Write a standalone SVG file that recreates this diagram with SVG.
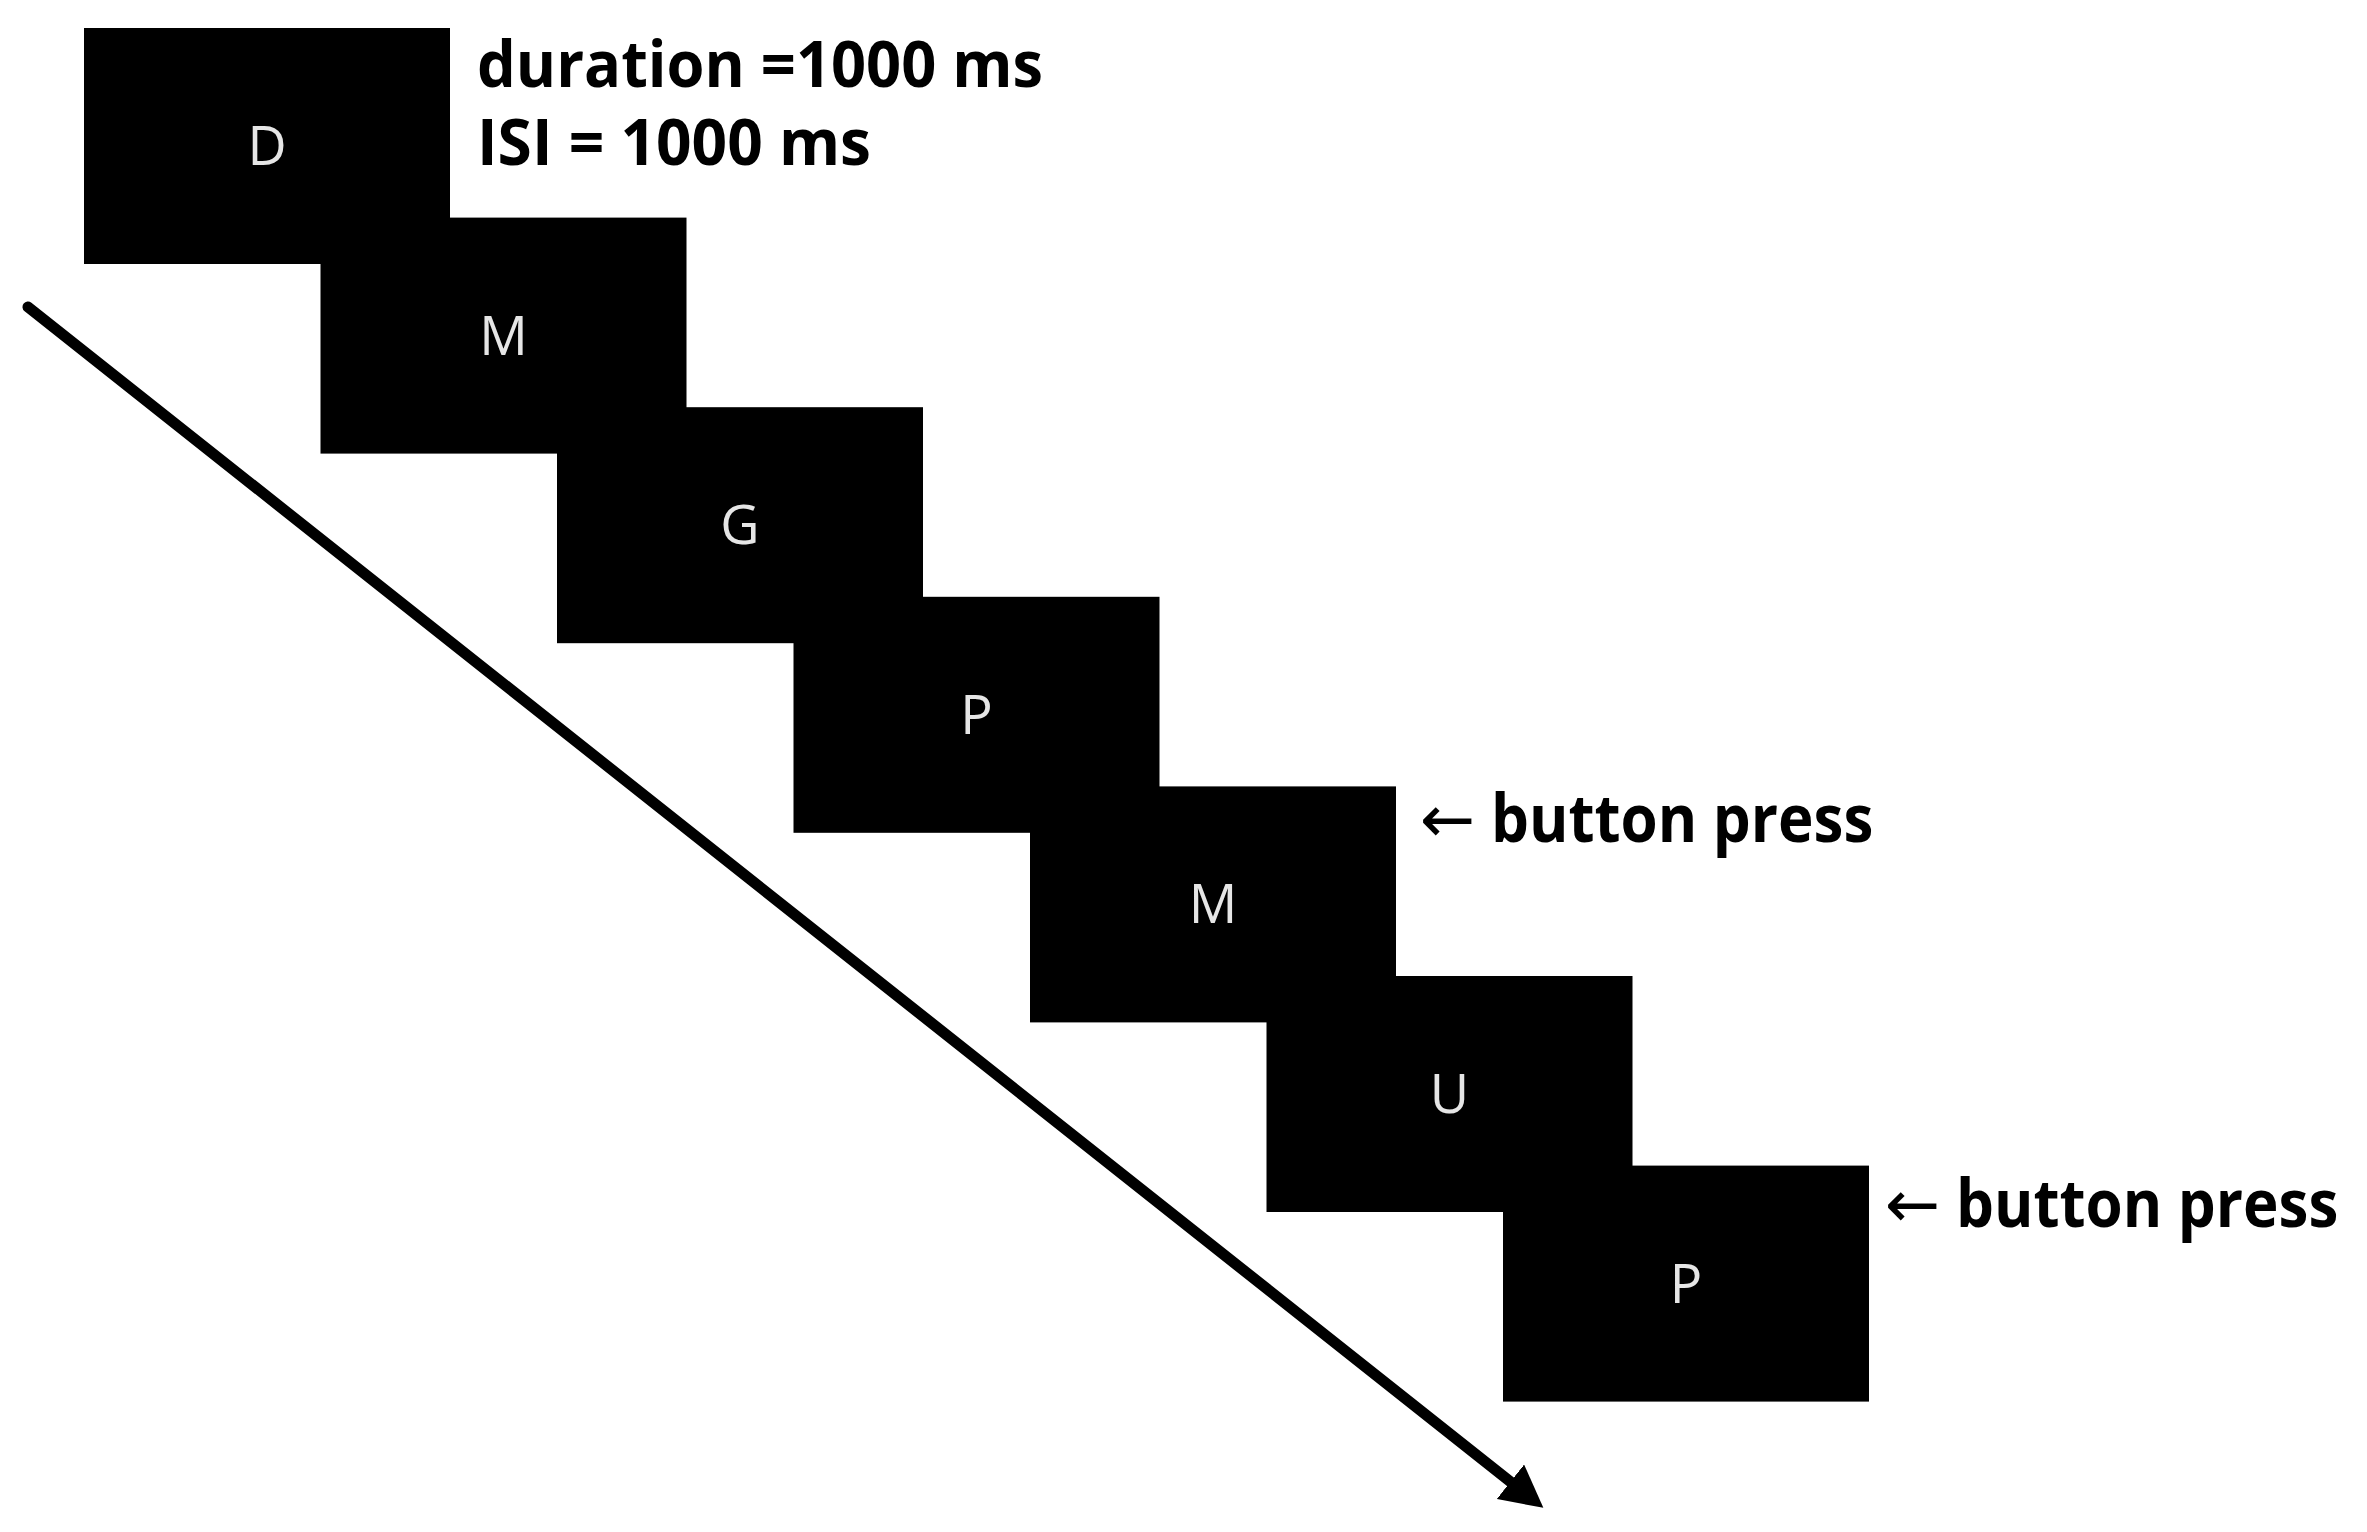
<svg xmlns="http://www.w3.org/2000/svg" width="2367" height="1532" viewBox="0 0 2367 1532">
<style>
.box{fill:#000;}
.ltr{font-family:"Open Sans","Liberation Sans",sans-serif;font-size:54px;fill:#e6e6e6;text-anchor:middle;}
.lbl{font-family:"Open Sans","Liberation Sans",sans-serif;font-weight:bold;font-size:66px;fill:#000;}
.top{font-size:64px;}
.arr{font-family:"DejaVu Sans","Liberation Sans",sans-serif;font-weight:normal;}
.time{stroke:#000;stroke-width:11;fill:none;stroke-linecap:round;}
</style>
<defs>
<marker id="head" markerUnits="userSpaceOnUse" viewBox="0 -22 42 44" markerWidth="42" markerHeight="44" refX="2" refY="0" orient="auto">
<path d="M0,-22 L42,0 L0,22 z" fill="#000"/>
</marker>
</defs>
<rect width="2367" height="1532" fill="#fff"/>
<g id="connectors">
<line class="time" x1="28" y1="307" x2="1512" y2="1483" marker-end="url(#head)"/>
</g>
<g id="n1"><rect class="box" x="84" y="28" width="366" height="236"/><text class="ltr" x="267" y="165">D</text></g>
<g id="n2"><rect class="box" x="320.5" y="217.6" width="366" height="236"/><text class="ltr" x="503.5" y="354.6">M</text></g>
<g id="n3"><rect class="box" x="557" y="407.2" width="366" height="236"/><text class="ltr" x="740" y="544.2">G</text></g>
<g id="n4"><rect class="box" x="793.5" y="596.8" width="366" height="236"/><text class="ltr" x="976.5" y="733.8">P</text></g>
<g id="n5"><rect class="box" x="1030" y="786.4" width="366" height="236"/><text class="ltr" x="1213" y="923.4">M</text></g>
<g id="n6"><rect class="box" x="1266.5" y="976" width="366" height="236"/><text class="ltr" x="1449.5" y="1113">U</text></g>
<g id="n7"><rect class="box" x="1503" y="1165.6" width="366" height="236"/><text class="ltr" x="1686" y="1302.6">P</text></g>
<g id="labels">
<text class="lbl top" x="477" y="87" textLength="566" lengthAdjust="spacingAndGlyphs">duration =1000 ms</text>
<text class="lbl top" x="477" y="165" textLength="394" lengthAdjust="spacingAndGlyphs">ISI = 1000 ms</text>
<text class="lbl" x="1420" y="842"><tspan class="arr">←</tspan><tspan textLength="398" lengthAdjust="spacingAndGlyphs"> button press</tspan></text>
<text class="lbl" x="1885" y="1227"><tspan class="arr">←</tspan><tspan textLength="398" lengthAdjust="spacingAndGlyphs"> button press</tspan></text>
</g>
</svg>
